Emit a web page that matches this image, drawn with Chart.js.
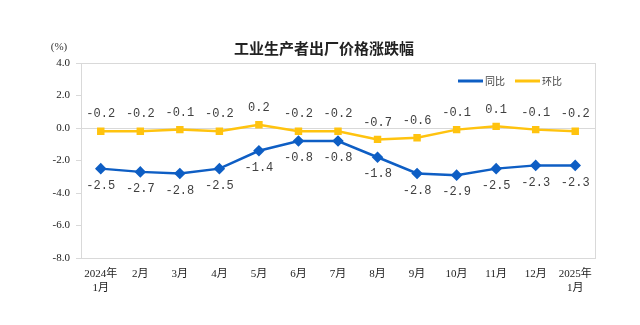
<!DOCTYPE html>
<html>
<head>
<meta charset="utf-8">
<script src="https://cdn.jsdelivr.net/npm/chart.js@4"></script>
<style>
  html, body { margin: 0; padding: 0; background: #fff; }
  #wrap { width: 640px; height: 325px; }
</style>
</head>
<body>
<div id="wrap"><canvas id="ppicnv"></canvas></div>
<script>
// month labels, first and last carry the year
const monthLabels = [['2024年', '1月'], '2月', '3月', '4月', '5月', '6月', '7月', '8月', '9月', '10月', '11月', '12月', ['2025年', '1月']];
const yoyValues = [-2.5, -2.7, -2.8, -2.5, -1.4, -0.8, -0.8, -1.8, -2.8, -2.9, -2.5, -2.3, -2.3];
const momValues = [-0.2, -0.2, -0.1, -0.2, 0.2, -0.2, -0.2, -0.7, -0.6, -0.1, 0.1, -0.1, -0.2];
const yTicks = [4, 2, 0, -2, -4, -6, -8];

const chartTitle = '工业生产者出厂价格涨跌幅';
const BLUE = '#0E5EC4';
const GOLD = '#FFC30F';

// title, unit, plot frame
const framePlugin = {
  id: 'frame',
  beforeDraw(chart) {
    const ctx = chart.ctx;
    const a = chart.chartArea;
    ctx.save();
    ctx.strokeStyle = '#d9d9d9';
    ctx.lineWidth = 1;
    ctx.strokeRect(a.left + 0.5, a.top + 0.5, a.right - a.left, a.bottom - a.top);
    ctx.fillStyle = '#222';
    ctx.font = 'bold 15px "Noto Sans CJK SC"';
    ctx.textAlign = 'center';
    ctx.textBaseline = 'middle';
    ctx.fillText(chartTitle, 324, 48);
    ctx.font = '11px "Liberation Serif"';
    ctx.fillStyle = '#333';
    ctx.fillText('(%)', 59, 47);
    ctx.restore();
  }
};

// small legend in the top right corner of the plot
const legendPlugin = {
  id: 'cornerLegend',
  afterDraw(chart) {
    const ctx = chart.ctx;
    const a = chart.chartArea;
    let x = a.right - 137;
    const y = a.top + 18;
    ctx.save();
    ctx.font = '10px "Noto Sans CJK SC"';
    ctx.textBaseline = 'middle';
    ctx.textAlign = 'left';
    chart.data.datasets.forEach(ds => {
      ctx.strokeStyle = ds.borderColor;
      ctx.lineWidth = 3;
      ctx.beginPath();
      ctx.moveTo(x, y);
      ctx.lineTo(x + 25, y);
      ctx.stroke();
      ctx.fillStyle = '#444';
      ctx.fillText(ds.label, x + 27, y);
      x += 27 + ctx.measureText(ds.label).width + 10;
    });
    ctx.restore();
  }
};

// value labels: yoy under the point, mom above
const valueLabels = {
  id: 'valueLabels',
  afterDatasetsDraw(chart) {
    const ctx = chart.ctx;
    ctx.save();
    ctx.font = '12px "Liberation Mono"';
    ctx.fillStyle = '#404040';
    ctx.textAlign = 'center';
    ctx.textBaseline = 'middle';
    chart.data.datasets.forEach((ds, i) => {
      const meta = chart.getDatasetMeta(i);
      const dy = ds.labelBelow ? 17 : -17;
      meta.data.forEach((pt, j) => {
        ctx.fillText(ds.data[j].toFixed(1), pt.x, pt.y + dy);
      });
    });
    ctx.restore();
  }
};

const ctx = document.getElementById('ppicnv').getContext('2d');
new Chart(ctx, {
  type: 'line',
  data: {
    labels: monthLabels,
    datasets: [
      {
        label: '同比',
        data: yoyValues,
        borderColor: BLUE,
        backgroundColor: BLUE,
        borderWidth: 2.5,
        pointStyle: 'rectRot',
        pointRadius: 4,
        pointHoverRadius: 4,
        labelBelow: true
      },
      {
        label: '环比',
        data: momValues,
        borderColor: GOLD,
        backgroundColor: GOLD,
        borderWidth: 2.5,
        pointStyle: 'rect',
        pointRadius: 3.5,
        pointHoverRadius: 3.5,
        labelBelow: false
      }
    ]
  },
  options: {
    responsive: true,
    maintainAspectRatio: false,
    animation: false,
    layout: { padding: { top: 63, right: 45, left: 0, bottom: 0 } },
    plugins: {
      title: { display: false },
      tooltip: { enabled: false },
      legend: { display: false }
    },
    scales: {
      x: {
        offset: true,
        afterFit: s => { s.height = 67; },
        grid: { display: false },
        border: { display: false },
        ticks: {
          color: '#222',
          padding: 2,
          maxRotation: 0,
          autoSkip: false,
          font: { family: '"Liberation Serif", "Noto Sans CJK SC"', size: 11 }
        }
      },
      y: {
        min: -8,
        max: 4,
        afterFit: s => { s.width = 81; },
        afterBuildTicks: s => { s.ticks = yTicks.map(v => ({ value: v })); },
        border: { display: false },
        grid: {
          color: c => (c.tick && c.tick.value === 0 ? '#d9d9d9' : 'rgba(0,0,0,0)'),
          tickColor: '#d9d9d9',
          tickLength: 5
        },
        ticks: {
          color: '#222',
          padding: 6,
          callback: v => v.toFixed(1),
          font: { family: '"Liberation Serif"', size: 11 }
        }
      }
    }
  },
  plugins: [framePlugin, legendPlugin, valueLabels]
});
</script>
</body>
</html>
